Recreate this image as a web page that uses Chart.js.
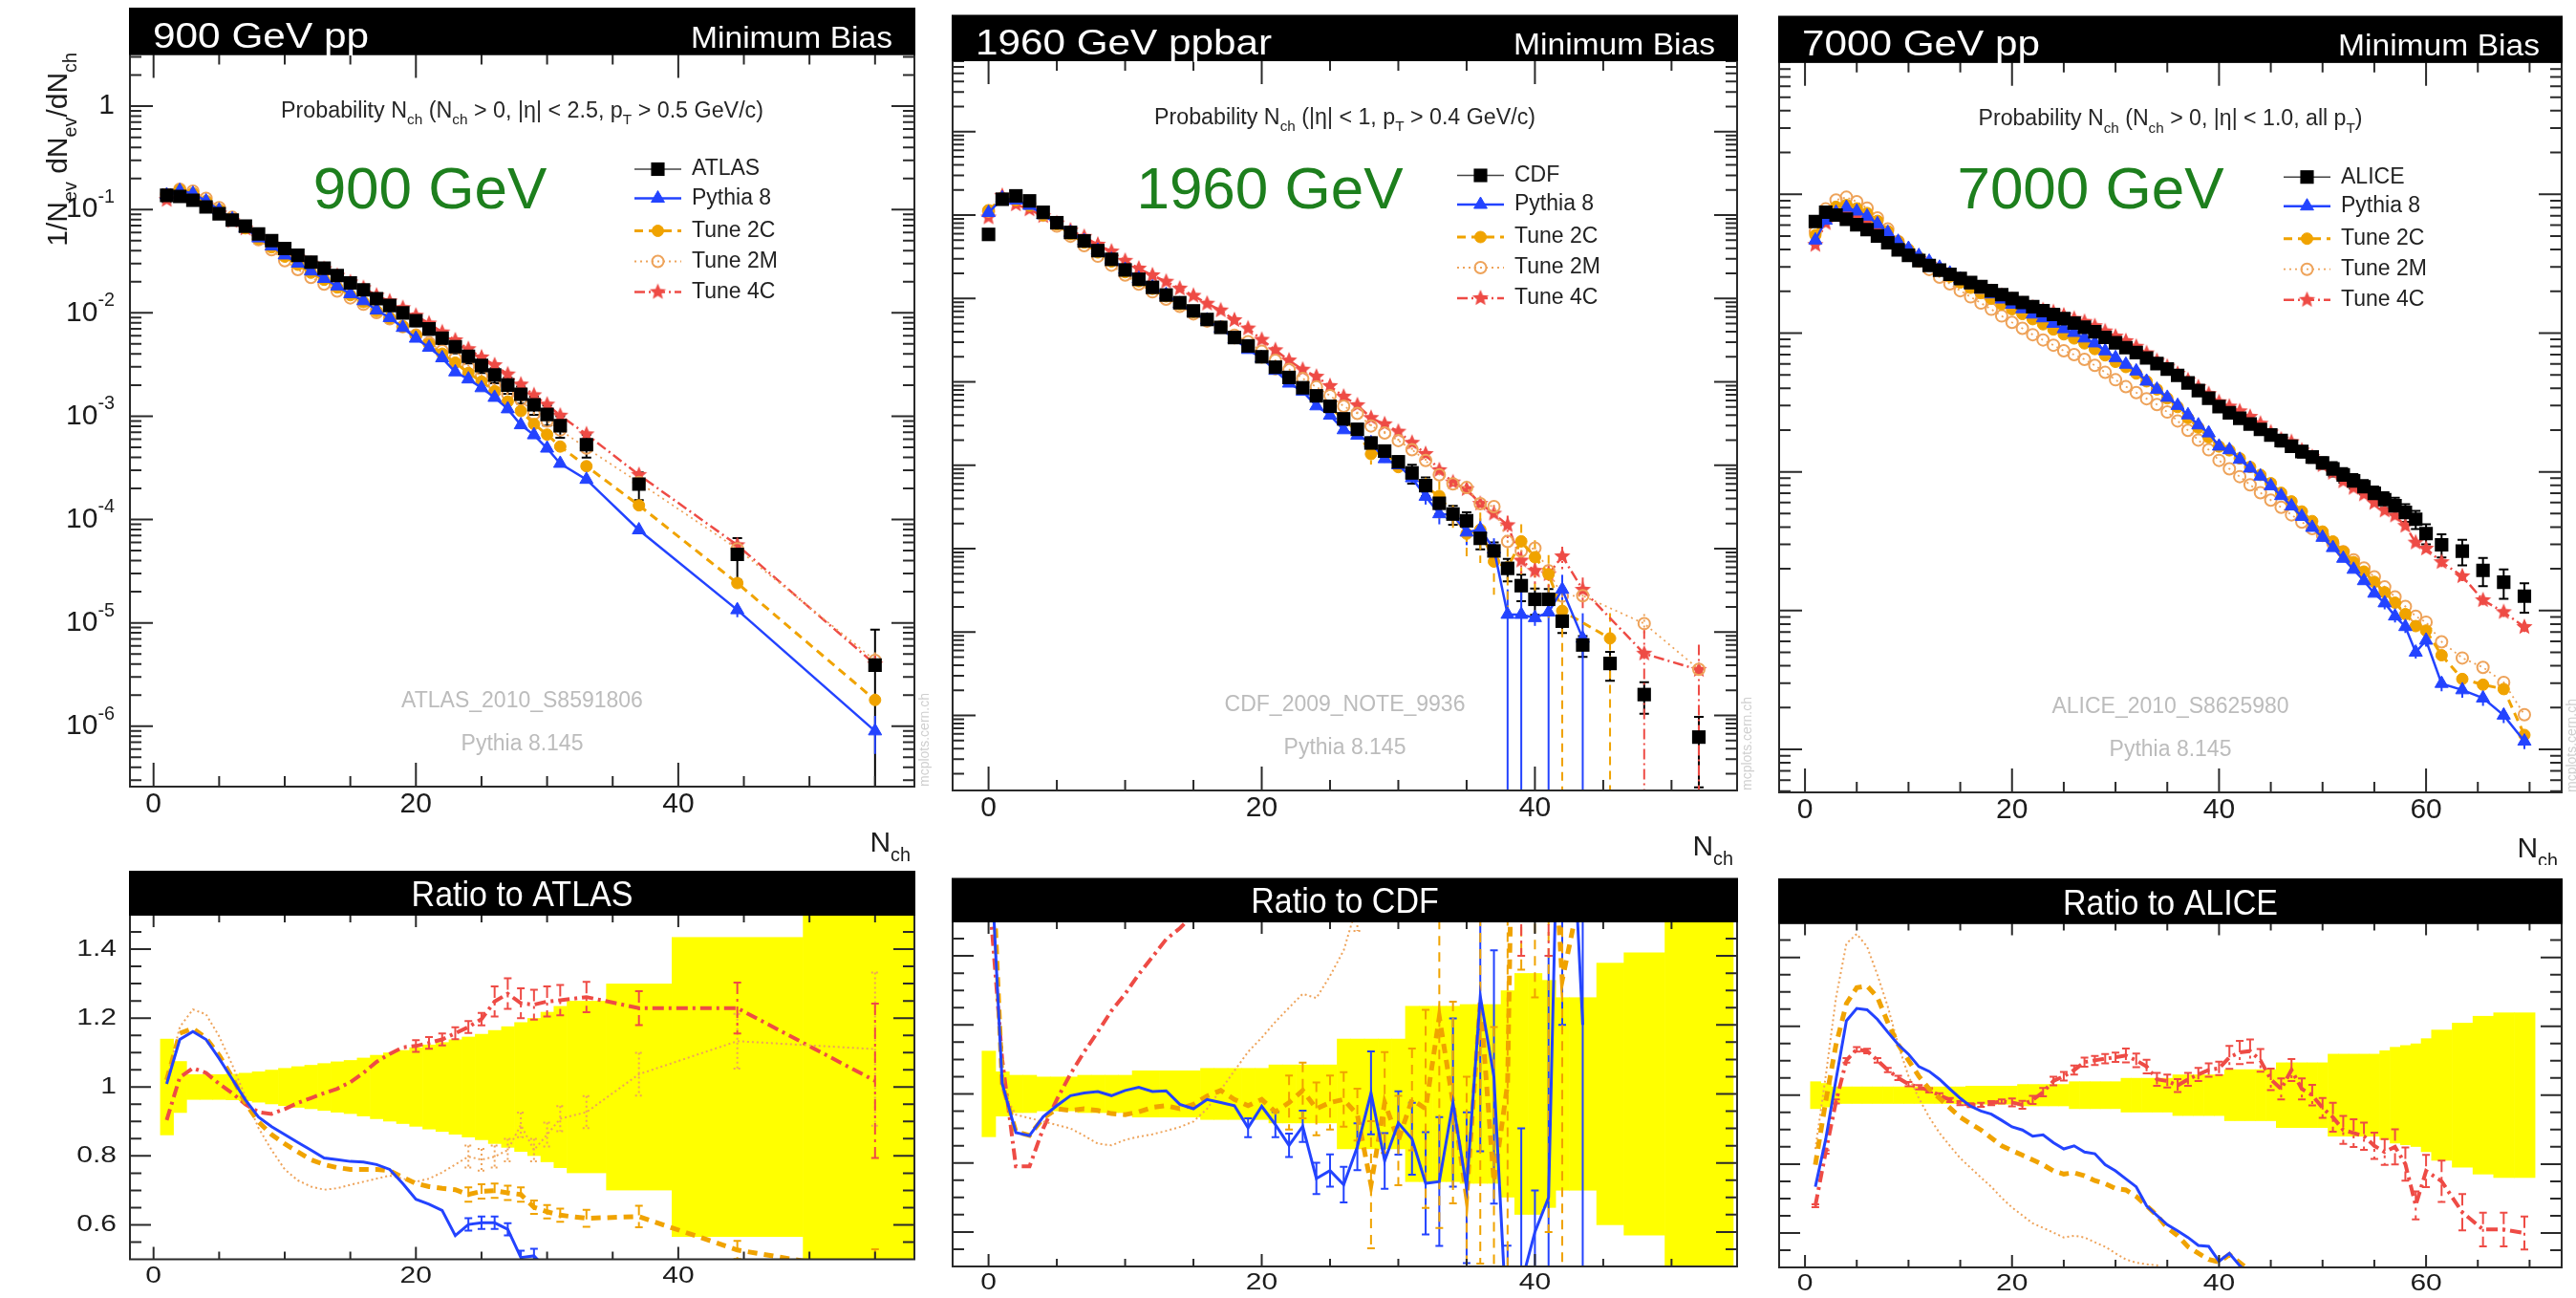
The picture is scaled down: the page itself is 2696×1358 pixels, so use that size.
<!DOCTYPE html>
<html>
<head>
<meta charset="utf-8">
<script src="https://cdn.jsdelivr.net/npm/chart.js@4.4.1/dist/chart.umd.min.js"></script>
<style>
  html, body { margin: 0; padding: 0; background: #fff; }
  #wrap { position: relative; width: 2696px; height: 1358px; overflow: hidden; background: #fff; }
  #wrap canvas { position: absolute; }
</style>
</head>
<body>
<div id="wrap"></div>
<script>
// ---------------- 900 GeV pp, ATLAS ----------------
const nch900 = [1,2,3,4,5,6,7,8,9,10,11,12,13,14,15,16,17,18,19,20,21,22,23,24,25,26,27,28,29,30,31,33,37,44.5,55];
const atlas900 = [0.137,0.134,0.123,0.106,0.091,0.079,0.069,0.058,0.050,0.042,
  0.036,0.031,0.027,0.023,0.0195,0.0167,0.0137,0.0118,0.0100,0.0084,
  0.0070,0.0057,0.0047,0.0038,0.0031,0.0025,0.0020,0.00163,0.00129,0.00104,
  0.00081,0.00053,0.00022,4.6e-5,3.9e-6];
const atlas900Err = [0.14,0.075,0.037,0.037,0.037,0.038,0.041,0.045,0.05,0.055,
  0.06,0.064,0.069,0.074,0.078,0.085,0.093,0.1,0.107,0.115,
  0.123,0.13,0.138,0.146,0.154,0.165,0.176,0.188,0.2,0.218,
  0.235,0.25,0.30,0.435,1.2];
const atlas900Edges = [0.5,1.5,2.5,3.5,4.5,5.5,6.5,7.5,8.5,9.5,10.5,11.5,12.5,13.5,14.5,15.5,
  16.5,17.5,18.5,19.5,20.5,21.5,22.5,23.5,24.5,25.5,26.5,27.5,28.5,29.5,30.5,31.5,34.5,39.5,49.5,60.5];
const py8R900 = [1.009,1.138,1.161,1.138,1.083,1.023,0.963,0.913,0.885,0.862,
  0.839,0.817,0.794,0.789,0.784,0.782,0.775,0.761,0.72,0.674,
  0.66,0.642,0.569,0.601,0.606,0.606,0.587,0.505,0.51,0.47,
  0.43,0.46,0.36,0.29,0.23];
const t2cR900 = [1.02,1.156,1.17,1.142,1.092,1.028,0.954,0.899,0.862,0.835,
  0.812,0.789,0.775,0.766,0.761,0.761,0.761,0.757,0.738,0.72,
  0.711,0.706,0.702,0.688,0.697,0.699,0.693,0.688,0.651,0.638,
  0.628,0.619,0.624,0.527,0.46];
const t2mR900 = [1.02,1.174,1.225,1.211,1.147,1.064,0.972,0.881,0.817,0.761,
  0.729,0.711,0.702,0.706,0.716,0.725,0.734,0.743,0.734,0.725,
  0.734,0.752,0.775,0.798,0.789,0.798,0.817,0.89,0.817,0.862,
  0.908,0.927,1.037,1.133,1.11];
const t4cR900 = [0.904,1.028,1.055,1.041,1.009,0.982,0.95,0.927,0.922,0.936,
  0.954,0.968,0.982,0.995,1.014,1.041,1.073,1.096,1.115,1.119,
  1.128,1.138,1.156,1.174,1.197,1.248,1.271,1.243,1.239,1.248,
  1.252,1.261,1.229,1.229,1.018];
const py8E900 = [0,0,0,0,0,0,0,0,0,0,0,0,0,0,0,0,0,0,0,0,0,0,0,
  0.03,0.03,0.03,0.03,0.04,0.04,0.05,0.05,0.06,0.08,0.15,0.4];
const t2cE900 = [0,0,0,0,0,0,0,0,0,0,0,0,0,0,0,0,0,0,0,0,0,0,0,
  0.03,0.03,0.03,0.03,0.03,0.03,0.03,0.03,0.04,0.05,0.05,0.15];
const t2mE900 = [0,0,0,0,0,0,0,0,0,0,0,0,0,0,0,0,0,0,0,0,0,0,0,
  0.04,0.04,0.04,0.04,0.04,0.04,0.04,0.04,0.05,0.06,0.07,0.2];
const t4cE900 = [0,0,0,0,0,0,0,0,0,0,0,0,0,0,0,0,0,0,0,
  0.015,0.015,0.015,0.015,0.015,0.015,0.035,0.035,0.035,0.035,0.035,0.035,0.035,0.04,0.06,0.22];

// ---------------- 1960 GeV ppbar, CDF ----------------
const nch1960 = [0,1,2,3,4,5,6,7,8,9,10,11,12,13,14,15,16,17,18,19,20,21,22,23,24,25,26,27,28,29,
  30,31,32,33,34,35,36,37,38,39,40,41,42,43.5,45.5,48,52];
const cdf1960 = [0.0587,0.155,0.170,0.148,0.108,0.081,0.062,0.049,0.0375,0.0295,
  0.022,0.017,0.0136,0.0110,0.0089,0.0071,0.0056,0.0045,0.0034,0.0027,
  0.0020,0.0015,0.00113,0.00085,0.00068,0.00051,0.00036,0.00027,0.000185,0.000148,
  0.000110,8.1e-5,5.7e-5,3.5e-5,2.6e-5,2.16e-5,1.33e-5,9.4e-6,5.8e-6,3.6e-6,
  2.47e-6,2.47e-6,1.35e-6,7.0e-7,4.2e-7,1.78e-7,5.5e-8];
const cdf1960Err = [0.125,0.065,0.055,0.055,0.05,0.05,0.05,0.055,0.055,0.055,
  0.055,0.068,0.068,0.068,0.068,0.068,0.075,0.075,0.075,0.075,
  0.075,0.085,0.085,0.085,0.085,0.085,0.16,0.16,0.16,0.16,
  0.16,0.255,0.255,0.255,0.255,0.26,0.26,0.26,0.3,0.35,
  0.35,0.33,0.28,0.28,0.38,0.41,0.75];
const cdf1960Edges = [-0.5,0.5,1.5,2.5,3.5,4.5,5.5,6.5,7.5,8.5,9.5,10.5,11.5,12.5,13.5,14.5,15.5,
  16.5,17.5,18.5,19.5,20.5,21.5,22.5,23.5,24.5,25.5,26.5,27.5,28.5,29.5,30.5,31.5,32.5,33.5,
  34.5,35.5,36.5,37.5,38.5,39.5,40.5,41.5,42.5,44.5,46.5,49.5,54.5];
const py8R1960 = [1.82,1.03,0.888,0.879,0.934,0.966,0.995,1.003,1.007,0.995,
  1.01,1.019,1.007,1.009,0.97,0.957,0.984,0.975,0.966,0.902,
  0.964,0.911,0.851,0.906,0.755,0.778,0.737,0.847,1.003,0.806,
  0.916,0.87,0.741,0.746,0.975,0.728,1.283,1.049,0.28,0.45,
  0.6,0.7,2.4,1.2,null,null,null];
const t2cR1960 = [1.95,1.03,0.89,0.88,0.93,0.957,0.952,0.957,0.952,0.943,
  0.94,0.948,0.961,0.966,0.957,0.97,0.994,1.01,0.984,0.966,
  0.984,0.948,0.975,1.01,0.957,0.975,0.984,0.94,0.737,0.975,
  0.865,0.984,0.957,1.223,0.975,0.70,1.27,0.746,1.03,3.4,
  3.2,2.0,1.33,null,2.0,null,null];
const t2mR1960 = [1.9,1.01,0.94,0.93,0.92,0.91,0.90,0.879,0.856,0.851,
  0.867,0.876,0.883,0.893,0.904,0.92,0.957,1.012,1.067,1.122,
  1.163,1.209,1.25,1.29,1.278,1.342,1.416,1.55,1.6,1.65,
  1.8,1.9,2.0,2.2,2.3,2.5,2.6,3.4,2.1,2.6,
  4.1,2.2,2.0,3.9,null,7.1,6.5];
const t4cR1960 = [1.6,1.1,0.79,0.79,0.90,0.984,1.058,1.122,1.18,1.241,
  1.29,1.347,1.397,1.448,1.48,1.52,1.55,1.6,1.62,1.62,
  1.6,1.6,1.6,1.65,1.7,1.75,1.85,1.95,2.0,2.1,
  2.3,2.3,2.4,2.5,2.4,2.4,2.6,2.8,3.3,2.0,
  2.2,2.0,6.0,4.6,null,3.1,6.4];
const py8E1960 = [0,0,0,0,0,0,0,0,0,0,0,0,0,0,0,0,0,0,0,
  0.03,0,0.04,0.04,0.05,0.06,0.06,0.07,0.08,0.12,0.1,
  0.1,0.12,0.2,0.25,0.25,0.3,0.35,0.35,1,1,
  0.2,1,0.5,1,0,0,0];
const t2cE1960 = [0,0,0,0,0,0,0,0,0,0,0,0,0,0,0,0,0,0,0,0,0,0,
  0.08,0.08,0.08,0.08,0.08,0.08,0.25,0.15,0.15,0.15,
  0.3,0.5,0.3,0.5,0.6,0.6,0.7,0.6,0.6,0.7,1,
  0,1,0,0];
const t2mE1960 = [0,0,0,0,0,0,0,0,0,0,0,0,0,0,0,0,0,0,0,0,0,0,0,0,0,0,0,
  0.05,0.05,0.05,0.05,0.05,0.05,0.05,0.05,0.05,0.05,0.05,
  0.2,0.2,0.2,0.2,0.2,0.2,0,0.3,0.1];
const t4cE1960 = [0,0,0,0,0,0,0,0,0,0,0,0,0,0,0,0,0,0,0,0,0,0,0,0,0,0,0,0,0,0,
  0,0,0,0,0,0,0,0,
  0.3,0.3,0.3,0.3,0.3,0.4,0,1,1];

// ---------------- 7000 GeV pp, ALICE ----------------
const nch7000 = [1,2,3,4,5,6,7,8,9,10,11,12,13,14,15,16,17,18,19,20,21,22,23,24,25,26,27,28,29,30,
  31,32,33,34,35,36,37,38,39,40,41,42,43,44,45,46,47,48,49,50,51,52,53,54,55,56,57,58,59,60,
  61.5,63.5,65.5,67.5,69.5];
const alice7000 = [0.0636,0.0743,0.0708,0.0661,0.0603,0.0556,0.0501,0.0447,0.0398,0.0363,
  0.0333,0.0307,0.0284,0.0265,0.0247,0.0231,0.0216,0.0202,0.0189,0.0177,
  0.0166,0.0155,0.0145,0.0136,0.0127,0.0118,0.0110,0.0102,0.0093,0.00851,
  0.00785,0.00724,0.00661,0.00603,0.0055,0.00495,0.00437,0.00385,0.00339,0.00295,
  0.00266,0.00243,0.00221,0.00202,0.00184,0.00168,0.00153,0.0014,0.00128,0.00116,
  0.00105,0.00095,0.00086,0.00078,0.0007,0.00063,0.00057,0.00051,0.000455,0.000359,
  0.000298,0.000268,0.000195,0.00016,0.000127];
const alice7000Err = [0.04,0.035,0.025,0.025,0.025,0.025,0.025,0.025,0.025,0.025,
  0.025,0.025,0.025,0.025,0.025,0.027,0.027,0.027,0.027,0.027,
  0.032,0.032,0.032,0.032,0.032,0.04,0.04,0.04,0.04,0.04,
  0.05,0.05,0.05,0.05,0.05,0.06,0.06,0.06,0.06,0.06,
  0.075,0.075,0.075,0.075,0.075,0.095,0.095,0.095,0.095,0.095,
  0.12,0.12,0.12,0.12,0.12,0.13,0.14,0.145,0.15,0.165,
  0.19,0.21,0.23,0.24,0.24];
const alice7000Edges = [0.5,1.5,2.5,3.5,4.5,5.5,6.5,7.5,8.5,9.5,10.5,11.5,12.5,13.5,14.5,15.5,
  16.5,17.5,18.5,19.5,20.5,21.5,22.5,23.5,24.5,25.5,26.5,27.5,28.5,29.5,30.5,31.5,32.5,33.5,
  34.5,35.5,36.5,37.5,38.5,39.5,40.5,41.5,42.5,43.5,44.5,45.5,46.5,47.5,48.5,49.5,50.5,51.5,
  52.5,53.5,54.5,55.5,56.5,57.5,58.5,59.5,60.5,62.5,64.5,66.5,68.5,70.5];
const py8R7000 = [0.734,0.872,1.046,1.216,1.252,1.248,1.22,1.183,1.147,1.119,
  1.083,1.069,1.046,1.018,0.991,0.968,0.954,0.945,0.927,0.908,
  0.899,0.881,0.885,0.862,0.844,0.853,0.835,0.83,0.798,0.78,
  0.757,0.734,0.679,0.651,0.624,0.606,0.587,0.564,0.561,0.518,
  0.541,0.505,0.48,0.46,0.43,0.40,0.37,0.34,0.31,0.29,
  0.27,0.25,0.23,0.21,0.19,0.18,0.16,0.15,0.11,0.17,
  0.10,0.10,0.12,0.11,0.09];
const t2cR7000 = [0.798,0.982,1.147,1.266,1.312,1.317,1.284,1.211,1.147,1.101,
  1.055,1.018,0.991,0.963,0.936,0.917,0.899,0.876,0.853,0.839,
  0.826,0.812,0.798,0.78,0.771,0.775,0.766,0.752,0.743,0.729,
  0.725,0.706,0.679,0.651,0.615,0.592,0.56,0.541,0.523,0.516,
  0.537,0.514,0.49,0.47,0.45,0.42,0.40,0.37,0.345,0.32,
  0.30,0.28,0.26,0.245,0.23,0.215,0.2,0.185,0.17,0.2,
  0.16,0.12,0.15,0.17,0.10];
const t2mR7000 = [0.844,1.055,1.284,1.44,1.468,1.431,1.349,1.257,1.147,1.055,
  0.991,0.936,0.89,0.853,0.817,0.789,0.761,0.734,0.702,0.674,
  0.651,0.628,0.615,0.601,0.587,0.592,0.587,0.573,0.56,0.541,
  0.523,0.514,0.509,0.506,0.49,0.47,0.455,0.44,0.425,0.41,
  0.395,0.38,0.365,0.35,0.34,0.33,0.32,0.31,0.305,0.30,
  0.29,0.28,0.27,0.26,0.25,0.235,0.22,0.21,0.2,0.23,
  0.2,0.17,0.2,0.19,0.14];
const t4cR7000 = [0.679,0.835,0.982,1.101,1.133,1.128,1.101,1.073,1.05,1.032,
  1.023,1.014,1.0,0.986,0.977,0.971,0.972,0.977,0.982,0.979,
  0.972,0.986,1.009,1.041,1.055,1.073,1.096,1.101,1.106,1.11,
  1.115,1.101,1.083,1.046,1.041,1.028,1.046,1.06,1.073,1.078,
  1.11,1.124,1.128,1.101,1.046,1.018,1.073,1.018,1.0,0.963,
  0.936,0.899,0.89,0.881,0.853,0.835,0.85,0.8,0.68,0.78,
  0.75,0.66,0.61,0.61,0.60];
const py8E7000 = [0,0,0,0,0,0,0,0,0,0,0,0,0,0,0,0,0,0,0,0,0,0,0,0,0,0,0,0,0,0,
  0,0,0,0,0,0,0,0,0,0,0,0,0,0,0,0,0,0,0,0,0,0,0,0,0,
  0.1,0.1,0.1,0.1,0.1,0.12,0.12,0.12,0.12,0.12];
const t2cE7000 = [0,0,0,0,0,0,0,0,0,0,0,0,0,0,0,0,0,0,0,0,0,0,0,0,0,0,0,0,0,0,
  0,0,0,0,0,0,0,0,0,0,0,0,0,0,0,0,0,0,0,0,0,0,0,0,0,
  0.07,0.07,0.07,0.07,0.07,0.09,0.09,0.09,0.09,0.09];
const t4cE7000 = [0.006,0.006,0.006,0.006,0.006,0.006,0.006,0.006,0.006,0.006,
  0.006,0.006,0.006,0.006,0.006,0.006,0.006,0.006,0.006,0.012,
  0.012,0.012,0.012,0.012,0.012,0.012,0.012,0.012,0.012,0.012,
  0.018,0.018,0.018,0.018,0.018,0.018,0.018,0.018,0.018,0.018,
  0.03,0.03,0.03,0.03,0.03,0.03,0.03,0.03,0.03,0.03,
  0.045,0.045,0.045,0.045,0.045,0.045,0.06,0.06,0.06,0.06,
  0.08,0.08,0.08,0.08,0.08];

// ---------------- styles ----------------
const FONT = '"Liberation Sans", Arial, Helvetica, sans-serif';
const C_PY8 = '#2343ff', C_2C = '#f0a300', C_2M = '#eea35a', C_4C = '#ee4b45';
const BAND = '#ffff00', GREEN = '#1d7f1d', INK = '#1c1c1c';
const NAMES = { py8: 'Pythia 8', t2c: 'Tune 2C', t2m: 'Tune 2M', t4c: 'Tune 4C' };
const KEYS = ['py8', 't2c', 't2m', 't4c'];

function starImage(color, R) {
  const s = Math.ceil(R * 2 + 2);
  const c = document.createElement('canvas');
  c.width = c.height = s;
  const g = c.getContext('2d');
  g.fillStyle = color;
  g.beginPath();
  for (let k = 0; k < 10; k++) {
    const rr = k % 2 ? R * 0.45 : R;
    const an = -Math.PI / 2 + k * Math.PI / 5;
    const px = s / 2 + rr * Math.cos(an), py = s / 2 + rr * Math.sin(an);
    if (k) g.lineTo(px, py); else g.moveTo(px, py);
  }
  g.closePath();
  g.fill();
  return c;
}
const STAR = starImage(C_4C, 9);

const STYLE = {
  py8: { color: C_PY8, dash: [], width: 2.5, rwidth: 3, rdash: [], point: 'triangle', r: 8, fill: C_PY8, bw: 1 },
  t2c: { color: C_2C, dash: [9, 6], width: 3, rwidth: 5, rdash: [10, 7], point: 'circle', r: 6, fill: C_2C, bw: 1 },
  t2m: { color: C_2M, dash: [2, 4], width: 1.8, rwidth: 2, rdash: [2, 3], point: 'circle', r: 6, fill: 'rgba(0,0,0,0)', bw: 2 },
  t4c: { color: C_4C, dash: [11, 4, 2, 4], width: 2.5, rwidth: 4, rdash: [12, 5, 3, 5], point: STAR, r: 9, fill: C_4C, bw: 1 }
};

// ---------------- panel layout ----------------
const PANELS = [
  {
    nch: nch900, ref: atlas900, refErr: atlas900Err, edges: atlas900Edges, refName: 'ATLAS',
    ratios: { py8: py8R900, t2c: t2cR900, t2m: t2mR900, t4c: t4cR900 },
    errs: { py8: py8E900, t2c: t2cE900, t2m: t2mE900, t4c: t4cE900 },
    top: { l: 136, r: 957, t: 56.5, b: 823, hdr: 8 },
    bot: { l: 136, r: 957, t: 957, b: 1317.5, hdr: 911 },
    xr: [-1.8, 58], yr: [2.6e-7, 3.2], xLabels: [0, 20, 40],
    head: '900 GeV pp', headW: 226, energy: '900 GeV', energyX: 450,
    sub: [['Probability N', ''], ['ch', 'sub'], [' (N', ''], ['ch', 'sub'], [' > 0, |\u03b7| < 2.5, p', ''], ['T', 'sub'], [' > 0.5 GeV/c)', '']],
    subW: 505, tag: 'ATLAS_2010_S8591806', axisLabels: true
  },
  {
    nch: nch1960, ref: cdf1960, refErr: cdf1960Err, edges: cdf1960Edges, refName: 'CDF',
    ratios: { py8: py8R1960, t2c: t2cR1960, t2m: t2mR1960, t4c: t4cR1960 },
    errs: { py8: py8E1960, t2c: t2cE1960, t2m: t2mE1960, t4c: t4cE1960 },
    top: { l: 997, r: 1818, t: 63, b: 827, hdr: 15.5 },
    bot: { l: 997, r: 1818, t: 964, b: 1325, hdr: 918.5 },
    xr: [-2.63, 54.8], yr: [1.26e-8, 7.2], xLabels: [0, 20, 40],
    head: '1960 GeV ppbar', headW: 310, energy: '1960 GeV', energyX: 1329,
    sub: [['Probability N', ''], ['ch', 'sub'], [' (|\u03b7| < 1, p', ''], ['T', 'sub'], [' > 0.4 GeV/c)', '']],
    subW: 399, tag: 'CDF_2009_NOTE_9936', axisLabels: false
  },
  {
    nch: nch7000, ref: alice7000, refErr: alice7000Err, edges: alice7000Edges, refName: 'ALICE',
    ratios: { py8: py8R7000, t2c: t2cR7000, t2m: t2mR7000, t4c: t4cR7000 },
    errs: { py8: py8E7000, t2c: t2cE7000, t2m: null, t4c: t4cE7000 },
    top: { l: 1862, r: 2681, t: 64.7, b: 829, hdr: 16.5 },
    bot: { l: 1862, r: 2681, t: 965.6, b: 1326, hdr: 919 },
    xr: [-2.5, 73.1], yr: [4.9e-6, 0.9], xLabels: [0, 20, 40, 60],
    head: '7000 GeV pp', headW: 249, energy: '7000 GeV', energyX: 2188,
    sub: [['Probability N', ''], ['ch', 'sub'], [' (N', ''], ['ch', 'sub'], [' > 0, |\u03b7| < 1.0, all p', ''], ['T', 'sub'], [')', '']],
    subW: 402, tag: 'ALICE_2010_S8625980', axisLabels: false
  }
];

// ---------------- drawing helpers ----------------
// text made of plain / subscript / superscript pieces
function rich(ctx, parts, x, y, o) {
  const size = o.size, small = size * 0.66;
  let w = 0;
  const items = parts.map(([t, k]) => {
    const fs = k ? small : size;
    ctx.font = `${o.weight || ''} ${fs}px ${FONT}`;
    const iw = ctx.measureText(t).width;
    w += iw;
    return { t, k, fs, iw };
  });
  const sx = o.w ? o.w / w : (o.sx || 1);
  const sy = o.sy || 1;
  ctx.save();
  ctx.translate(x, y);
  if (o.rot) ctx.rotate(o.rot);
  ctx.scale(sx, sy);
  let cx = o.align === 'center' ? -w / 2 : o.align === 'right' ? -w : 0;
  ctx.fillStyle = o.color || INK;
  ctx.textBaseline = o.baseline || 'alphabetic';
  ctx.textAlign = 'left';
  for (const it of items) {
    ctx.font = `${o.weight || ''} ${it.fs}px ${FONT}`;
    const dy = it.k === 'sub' ? size * 0.32 : it.k === 'sup' ? -size * 0.42 : 0;
    ctx.fillText(it.t, cx, dy);
    cx += it.iw;
  }
  ctx.restore();
}

function marker(ctx, st, x, y) {
  if (st.point instanceof HTMLCanvasElement) {
    ctx.drawImage(st.point, x - st.point.width / 2, y - st.point.height / 2);
    return;
  }
  ctx.beginPath();
  if (st.point === 'rect') {
    const s = st.r * Math.SQRT1_2;
    ctx.rect(x - s, y - s, 2 * s, 2 * s);
  } else if (st.point === 'triangle') {
    for (let k = 0; k < 3; k++) {
      const an = -Math.PI / 2 + k * 2 * Math.PI / 3;
      const px = x + st.r * Math.cos(an), py = y + st.r * Math.sin(an);
      if (k) ctx.lineTo(px, py); else ctx.moveTo(px, py);
    }
    ctx.closePath();
  } else {
    ctx.arc(x, y, st.r, 0, Math.PI * 2);
  }
  ctx.fillStyle = st.fill;
  ctx.fill();
  if (st.bw) {
    ctx.setLineDash([]);
    ctx.lineWidth = st.bw;
    ctx.strokeStyle = st.stroke || st.color;
    ctx.stroke();
  }
}

function clipArea(ctx, a) {
  ctx.save();
  ctx.beginPath();
  ctx.rect(a.left, a.top, a.right - a.left, a.bottom - a.top);
  ctx.clip();
}

// vertical error bars; in the ratio view a fully uncertain point lying
// above the visible range gets no bar
function drawErrorBars(chart, ratioView) {
  const ctx = chart.ctx, a = chart.chartArea, ys = chart.scales.y;
  chart.data.datasets.forEach((ds, i) => {
    if (!ds.errRel) return;
    const meta = chart.getDatasetMeta(i);
    ctx.strokeStyle = ds.errColor;
    ctx.lineWidth = ds.errWidth || 2;
    ctx.setLineDash(ds.errDash || []);
    ds.data.forEach((pt, j) => {
      const e = ds.errRel[j], el = meta.data[j];
      if (pt.y == null || !e || !el) return;
      if (ratioView && e >= 1 && pt.y > ys.max) return;
      const yHi = ys.getPixelForValue(pt.y * (1 + e));
      const lo = pt.y * (1 - e);
      const yLo = lo > 0 ? ys.getPixelForValue(lo) : a.bottom + 4;
      ctx.beginPath();
      ctx.moveTo(el.x, yHi);
      ctx.lineTo(el.x, yLo);
      if (ds.errCap) {
        ctx.moveTo(el.x - ds.errCap, yHi); ctx.lineTo(el.x + ds.errCap, yHi);
        if (lo > 0) { ctx.moveTo(el.x - ds.errCap, yLo); ctx.lineTo(el.x + ds.errCap, yLo); }
      }
      ctx.stroke();
    });
  });
  ctx.setLineDash([]);
}

function drawBand(chart, P) {
  const ctx = chart.ctx, xs = chart.scales.x, ys = chart.scales.y;
  ctx.fillStyle = BAND;
  P.refErr.forEach((e, i) => {
    const x0 = xs.getPixelForValue(P.edges[i]), x1 = xs.getPixelForValue(P.edges[i + 1]);
    const y0 = ys.getPixelForValue(1 + e), y1 = ys.getPixelForValue(1 - e);
    ctx.fillRect(x0, y0, x1 - x0 + 0.6, y1 - y0);
  });
}

function frameAndTicks(chart, t) {
  const ctx = chart.ctx, a = chart.chartArea, xs = chart.scales.x, ys = chart.scales.y;
  ctx.save();
  ctx.setLineDash([]);
  ctx.strokeStyle = '#2a2a2a';
  ctx.lineWidth = 2;
  ctx.beginPath();
  for (let v = Math.ceil(xs.min / 5) * 5; v <= xs.max; v += 5) {
    const px = xs.getPixelForValue(v);
    const L = v % 20 === 0 ? t.xMaj : t.xMin;
    ctx.moveTo(px, a.bottom); ctx.lineTo(px, a.bottom - L);
    ctx.moveTo(px, a.top); ctx.lineTo(px, a.top + L);
  }
  const yTick = (v, L) => {
    const py = ys.getPixelForValue(v);
    ctx.moveTo(a.left, py); ctx.lineTo(a.left + L, py);
    ctx.moveTo(a.right, py); ctx.lineTo(a.right - L, py);
  };
  if (t.log) {
    const k0 = Math.floor(Math.log10(ys.min)), k1 = Math.ceil(Math.log10(ys.max));
    for (let k = k0; k <= k1; k++) {
      for (let m = 1; m <= 9; m++) {
        const v = m * Math.pow(10, k);
        if (v < ys.min || v > ys.max) continue;
        yTick(v, m === 1 ? t.yMaj : t.yMin);
      }
    }
  } else {
    for (let i = 11; i <= 29; i++) yTick(i * 0.05, i % 4 === 0 ? t.yMaj : t.yMin);
  }
  ctx.stroke();
  ctx.strokeRect(a.left, a.top, a.right - a.left, a.bottom - a.top);
  ctx.restore();
}

function header(ctx, a, hdrTop) {
  ctx.fillStyle = '#000';
  ctx.fillRect(a.left - 1, hdrTop, a.right - a.left + 2, a.top - hdrTop + 1);
}

function makeCanvas(rect) {
  const c = document.createElement('canvas');
  c.width = rect.w; c.height = rect.h;
  c.style.left = rect.x + 'px'; c.style.top = rect.y + 'px';
  c.style.width = rect.w + 'px'; c.style.height = rect.h + 'px';
  document.getElementById('wrap').appendChild(c);
  return c;
}

function baseOptions(rect, f, xr, yType, yr) {
  return {
    responsive: false, animation: false, devicePixelRatio: 1, events: [],
    layout: { padding: { left: f.l - rect.x, right: rect.x + rect.w - f.r, top: f.t - rect.y, bottom: rect.y + rect.h - f.b } },
    plugins: { legend: { display: false }, tooltip: { enabled: false } },
    scales: {
      x: { type: 'linear', min: xr[0], max: xr[1], display: false },
      y: { type: yType, min: yr[0], max: yr[1], display: false }
    }
  };
}

// ---------------- distribution panels ----------------
function topChart(P) {
  const f = P.top;
  const rect = { x: f.l - 136, y: 0, w: (f.r - f.l) + 176, h: 905 };
  const refStyle = { point: 'rect', r: 10, fill: '#000', color: '#000', bw: 0 };
  const datasets = [{
    label: P.refName,
    data: P.nch.map((x, i) => ({ x, y: P.ref[i] })),
    showLine: false, pointStyle: 'rect', pointRadius: 10, pointBackgroundColor: '#000',
    pointBorderWidth: 0, borderColor: '#000',
    errRel: P.refErr, errColor: '#000', errWidth: 2, errCap: 5
  }];
  for (const k of KEYS) {
    const s = STYLE[k], rr = P.ratios[k];
    datasets.push({
      label: NAMES[k],
      data: P.nch.map((x, i) => ({ x, y: rr[i] == null ? null : P.ref[i] * rr[i] })),
      borderColor: s.color, borderWidth: s.width, borderDash: s.dash, spanGaps: true,
      pointStyle: s.point, pointRadius: s.r, pointBackgroundColor: s.fill,
      pointBorderColor: s.color, pointBorderWidth: s.bw,
      errRel: P.errs[k], errColor: s.color, errWidth: 2, errDash: s.dash
    });
  }
  const legendRows = [
    { name: P.refName, st: refStyle, line: { color: '#444', width: 1.5, dash: [] } },
    ...KEYS.map(k => ({ name: NAMES[k], st: STYLE[k], line: { color: STYLE[k].color, width: STYLE[k].width, dash: STYLE[k].dash } }))
  ];
  const X = v => v - rect.x;
  const deco = {
    id: 'deco',
    beforeDatasetsDraw(chart) {
      clipArea(chart.ctx, chart.chartArea);
      drawErrorBars(chart, false);
      chart.ctx.restore();
    },
    afterDraw(chart) {
      const ctx = chart.ctx, a = chart.chartArea, xs = chart.scales.x, ys = chart.scales.y;
      frameAndTicks(chart, { log: true, xMaj: 25, xMin: 11, yMaj: 24, yMin: 12 });
      header(ctx, a, f.hdr);
      rich(ctx, [[P.head, '']], a.left + 24, a.top - 6.5, { size: 36, w: P.headW, color: '#fff' });
      rich(ctx, [['Minimum Bias', '']], a.right - 23, a.top - 6.5, { size: 31, w: 211, color: '#fff', align: 'right' });
      // subtitle and energy label
      rich(ctx, P.sub, (a.left + a.right) / 2, a.top + 66.5, { size: 23, w: P.subW, align: 'center', color: '#262626' });
      rich(ctx, [[P.energy, '']], X(P.energyX), 218, { size: 62, align: 'center', color: GREEN });
      // legend
      const rows = [120.5, 151, 185, 217, 249];
      legendRows.forEach((row, i) => {
        const y = a.top + rows[i];
        ctx.save();
        ctx.strokeStyle = row.line.color; ctx.lineWidth = row.line.width; ctx.setLineDash(row.line.dash);
        ctx.beginPath(); ctx.moveTo(a.left + 528, y); ctx.lineTo(a.left + 577, y); ctx.stroke();
        ctx.restore();
        marker(ctx, row.st, a.left + 552.5, y);
        rich(ctx, [[row.name, '']], a.left + 588, y, { size: 23, baseline: 'middle', color: '#222' });
      });
      // analysis tags
      rich(ctx, [[P.tag, '']], (a.left + a.right) / 2, a.bottom - 89, { size: 23, align: 'center', baseline: 'middle', color: '#bcbcbc' });
      rich(ctx, [['Pythia 8.145', '']], (a.left + a.right) / 2, a.bottom - 44, { size: 23, align: 'center', baseline: 'middle', color: '#bcbcbc' });
      rich(ctx, [['mcplots.cern.ch', '']], a.right + 15, a.bottom, { size: 14, rot: -Math.PI / 2, color: '#cfcfcf' });
      // axis labels
      P.xLabels.forEach(v => rich(ctx, [[String(v), '']], xs.getPixelForValue(v), a.bottom + 19, { size: 30, align: 'center', baseline: 'middle' }));
      rich(ctx, [['N', ''], ['ch', 'sub']], a.right - 4, a.bottom + 68, { size: 30, align: 'right' });
      if (P.axisLabels) {
        for (let k = 0; k >= -6; k--) {
          const py = ys.getPixelForValue(Math.pow(10, k));
          const parts = k === 0 ? [['1', '']] : [['10', ''], ['-' + (-k), 'sup']];
          rich(ctx, parts, a.left - 16, py, { size: 30, align: 'right', baseline: 'middle' });
        }
        rich(ctx, [['1/N', ''], ['ev', 'sub'], [' dN', ''], ['ev', 'sub'], ['/dN', ''], ['ch', 'sub']],
          X(70), 55, { size: 30, rot: -Math.PI / 2, align: 'right' });
      }
    }
  };
  const cfg = { type: 'line', data: { datasets }, options: baseOptions(rect, f, P.xr, 'logarithmic', P.yr), plugins: [deco] };
  return new Chart(makeCanvas(rect).getContext('2d'), cfg);
}

// ---------------- ratio panels ----------------
function ratioChart(P) {
  const f = P.bot;
  const rect = { x: f.l - 136, y: 895, w: (f.r - f.l) + 176, h: 463 };
  const datasets = KEYS.map(k => {
    const s = STYLE[k], rr = P.ratios[k];
    return {
      label: NAMES[k],
      data: P.nch.map((x, i) => ({ x, y: rr[i] })),
      borderColor: s.color, borderWidth: s.rwidth, borderDash: s.rdash, spanGaps: true,
      pointRadius: 0, errRel: P.errs[k], errColor: s.color, errWidth: 2, errDash: s.rdash, errCap: 4
    };
  });
  const deco = {
    id: 'deco',
    beforeDatasetsDraw(chart) {
      clipArea(chart.ctx, chart.chartArea);
      drawBand(chart, P);
      drawErrorBars(chart, true);
      chart.ctx.restore();
    },
    afterDraw(chart) {
      const ctx = chart.ctx, a = chart.chartArea, xs = chart.scales.x, ys = chart.scales.y;
      frameAndTicks(chart, { log: false, xMaj: 13, xMin: 8, yMaj: 22, yMin: 12 });
      header(ctx, a, f.hdr - rect.y);
      rich(ctx, [['Ratio to ' + P.refName, '']], (a.left + a.right) / 2, a.top - 9, { size: 34, sy: 1.08, align: 'center', color: '#fff' });
      P.xLabels.forEach(v => rich(ctx, [[String(v), '']], xs.getPixelForValue(v), a.bottom + 18, { size: 30, sy: 0.78, align: 'center', baseline: 'middle' }));
      if (P.axisLabels) {
        [['0.6', 0.6], ['0.8', 0.8], ['1', 1], ['1.2', 1.2], ['1.4', 1.4]].forEach(([t, v]) =>
          rich(ctx, [[t, '']], a.left - 14, ys.getPixelForValue(v), { size: 30, sy: 0.8, align: 'right', baseline: 'middle' }));
      }
    }
  };
  const cfg = { type: 'line', data: { datasets }, options: baseOptions(rect, f, P.xr, 'linear', [0.5, 1.5]), plugins: [deco] };
  return new Chart(makeCanvas(rect).getContext('2d'), cfg);
}

PANELS.forEach(P => { topChart(P); ratioChart(P); });
</script>
</body>
</html>
